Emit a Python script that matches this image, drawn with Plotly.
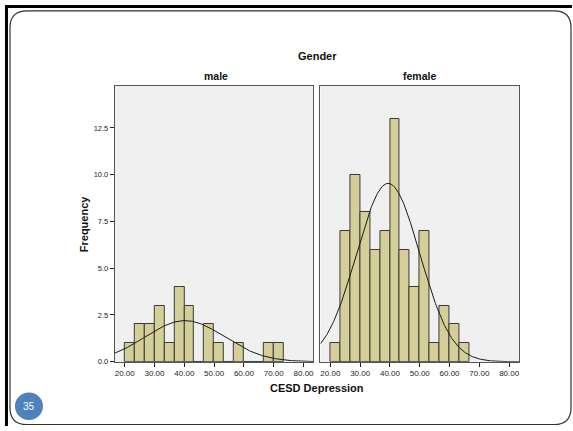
import numpy as np
import plotly.graph_objects as go

# CESD depression score histograms by gender (bins of width 10/3 starting at 20)
bin_start = 20.0
bin_width = 10.0 / 3.0
male_counts = [1, 2, 2, 3, 1, 4, 3, 0, 2, 1, 0, 1, 0, 0, 1, 1]
female_counts = [1, 7, 10, 8, 6, 7, 13, 6, 4, 7, 1, 3, 2, 1]
# Fitted normal curve parameters (mean, std. deviation) per group
male_mean, male_sd = 40.2, 13.3
female_mean, female_sd = 39.4, 10.6

x_ticks = [20, 30, 40, 50, 60, 70, 80]
x_ticktext = ["20.00", "30.00", "40.00", "50.00", "60.00", "70.00", "80.00"]
y_ticks = [0, 2.5, 5.0, 7.5, 10.0, 12.5]
y_ticktext = ["0.0", "2.5", "5.0", "7.5", "10.0", "12.5"]

W, H = 573, 431
X_RANGE = [16.67, 83.33]
Y_RANGE = [0, 14.74]

FONT = "Liberation Sans, Arial, sans-serif"
BAR_FILL = "#D4CF98"
BAR_LINE = "#3a3a3a"


def px(x):
    return x / W


def py(y):
    return 1 - y / H


def centers(counts):
    return [bin_start + bin_width * (i + 0.5) for i in range(len(counts))]


def normal_curve(counts, mean, sd):
    xs = np.linspace(X_RANGE[0], X_RANGE[1], 300)
    n = sum(counts)
    ys = n * bin_width / (sd * np.sqrt(2 * np.pi)) * np.exp(-0.5 * ((xs - mean) / sd) ** 2)
    return xs, ys


fig = go.Figure()

panels = [
    ("x", "y", male_counts, male_mean, male_sd),
    ("x2", "y2", female_counts, female_mean, female_sd),
]
for xa, ya, counts, mean, sd in panels:
    fig.add_trace(go.Bar(
        x=centers(counts), y=counts, width=bin_width,
        marker=dict(color=BAR_FILL, line=dict(color=BAR_LINE, width=1)),
        xaxis=xa, yaxis=ya, showlegend=False, hoverinfo="skip",
    ))
    cx, cy = normal_curve(counts, mean, sd)
    fig.add_trace(go.Scatter(
        x=cx, y=cy, mode="lines", line=dict(color="#1a1a1a", width=1),
        xaxis=xa, yaxis=ya, showlegend=False, hoverinfo="skip",
    ))

xaxis_common = dict(
    range=X_RANGE, tickvals=x_ticks, ticktext=x_ticktext,
    ticks="outside", ticklen=4, tickcolor="#222222", tickwidth=1,
    showline=True, linecolor="#555555", linewidth=1, mirror=True,
    showgrid=False, zeroline=False,
    tickfont=dict(family=FONT, size=8, color="#222222"),
)
yaxis_common = dict(
    range=Y_RANGE, tickvals=y_ticks, ticktext=y_ticktext,
    showline=True, linecolor="#555555", linewidth=1, mirror=True,
    showgrid=False, zeroline=False,
    tickfont=dict(family=FONT, size=7.5, color="#222222"),
)

y_dom = [py(366), py(87)]

fig.update_layout(
    width=W, height=H, margin=dict(l=0, r=0, t=0, b=0),
    paper_bgcolor="white", plot_bgcolor="#F0F0F0",
    bargap=0, barmode="overlay",
    xaxis=dict(xaxis_common, domain=[px(115), px(314)], anchor="y"),
    xaxis2=dict(xaxis_common, domain=[px(321), px(520)], anchor="y2"),
    yaxis=dict(yaxis_common, domain=y_dom, anchor="x",
               ticks="outside", ticklen=4, tickcolor="#222222"),
    yaxis2=dict(yaxis_common, domain=y_dom, anchor="x2",
                showticklabels=False, ticks=""),
)

# Titles and labels
ann = [
    ("Gender", 318, 57, 11, 0),
    ("male", 216, 77, 10.5, 0),
    ("female", 420, 77, 10.5, 0),
    ("CESD Depression", 318, 393, 11, 0),
    ("Frequency", 85, 226, 11, -90),
]
for text, x, y, size, ang in ann:
    fig.add_annotation(
        text=f"<b>{text}</b>", x=px(x), y=py(y), xref="paper", yref="paper",
        showarrow=False, textangle=ang, xanchor="center", yanchor="middle",
        font=dict(family=FONT, size=size, color="#111111"),
    )

# Slide frame: heavy black edges and rounded border
fig.add_shape(type="rect", xref="paper", yref="paper",
              x0=px(5), x1=px(573), y0=py(8), y1=py(5),
              fillcolor="black", line=dict(width=0), layer="above")
fig.add_shape(type="rect", xref="paper", yref="paper",
              x0=px(5), x1=px(8), y0=py(431), y1=py(5),
              fillcolor="black", line=dict(width=0), layer="above")

L, T, R, B, r = 10, 11, 572, 429.5, 17
path = (
    f"M {px(L)},{py(T + r)} Q {px(L)},{py(T)} {px(L + r)},{py(T)} "
    f"L {px(R - r)},{py(T)} Q {px(R)},{py(T)} {px(R)},{py(T + r)} "
    f"L {px(R)},{py(B - r)} Q {px(R)},{py(B)} {px(R - r)},{py(B)} "
    f"L {px(L + r)},{py(B)} Q {px(L)},{py(B)} {px(L)},{py(B - r)} Z"
)
fig.add_shape(type="path", xref="paper", yref="paper", path=path,
              line=dict(color="#333333", width=1.2), layer="below")

# Slide number badge
fig.add_shape(type="circle", xref="paper", yref="paper",
              x0=px(15), x1=px(43), y0=py(425), y1=py(397),
              fillcolor="#4F81BD", line=dict(width=0), layer="above")
fig.add_annotation(text="35", x=px(29), y=py(411), xref="paper", yref="paper",
                   showarrow=False, xanchor="center", yanchor="middle",
                   font=dict(family=FONT, size=10, color="white"))

fig.write_html("out.html")
